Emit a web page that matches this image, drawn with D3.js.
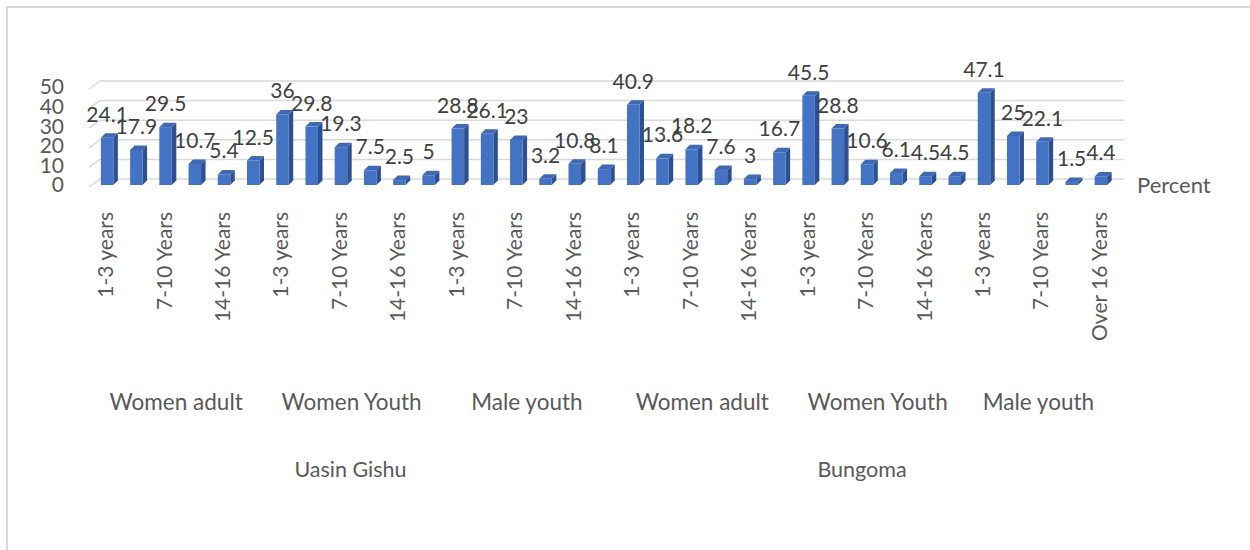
<!DOCTYPE html>
<html>
<head>
<meta charset="utf-8">
<script src="https://cdn.jsdelivr.net/npm/d3@7"></script>
<style>
  html, body { margin: 0; padding: 0; background: #fff; }
  svg text { font-family: Lato, "Liberation Sans", sans-serif; fill: #595959; }
</style>
</head>
<body>
<svg id="chart" width="1250" height="550"></svg>
<script>
// ---------- DATA ----------
const counties = ["Uasin Gishu", "Bungoma"];
const groups = ["Women adult", "Women Youth", "Male youth"];
const categories = ["1-3 years", "4-6 Years", "7-10 Years", "11-13 Years", "14-16 Years", "Over 16 Years"];
const categoriesBungomaMale = ["1-3 years", "4-6 Years", "7-10 Years", "11-13 Years", "Over 16 Years"];

const uasinWomenAdult = [24.1, 17.9, 29.5, 10.7, 5.4, 12.5];
const uasinWomenYouth = [36, 29.8, 19.3, 7.5, 2.5, 5];
const uasinMaleYouth = [28.8, 26.1, 23, 3.2, 10.8, 8.1];
const bungomaWomenAdult = [40.9, 13.6, 18.2, 7.6, 3, 16.7];
const bungomaWomenYouth = [45.5, 28.8, 10.6, 6.1, 4.5, 4.5];
const bungomaMaleYouth = [47.1, 25, 22.1, 1.5, 4.4];

const yTicks = [0, 10, 20, 30, 40, 50];
const axisTitle = "Percent";

// ---------- BUILD ROWS ----------
const seriesTable = [
  { county: counties[0], group: groups[0], cats: categories, vals: uasinWomenAdult },
  { county: counties[0], group: groups[1], cats: categories, vals: uasinWomenYouth },
  { county: counties[0], group: groups[2], cats: categories, vals: uasinMaleYouth },
  { county: counties[1], group: groups[0], cats: categories, vals: bungomaWomenAdult },
  { county: counties[1], group: groups[1], cats: categories, vals: bungomaWomenYouth },
  { county: counties[1], group: groups[2], cats: categoriesBungomaMale, vals: bungomaMaleYouth }
];
const rows = [];
seriesTable.forEach((s, gi) => {
  s.vals.forEach((v, i) => {
    rows.push({ key: rows.length, county: s.county, group: s.group, groupIdx: gi, cat: s.cats[i], value: v });
  });
});

// ---------- SCALES ----------
const svg = d3.select("#chart");
const x = d3.scaleBand().domain(rows.map(d => d.key)).range([93.5, 1116.5]);
const y = d3.scaleLinear().domain([0, 50]).range([185, 87]);
const cx = k => x(k) + x.bandwidth() / 2 - 1;

const barW = 12.5, depth = 4.5, backShift = 6;

// chart frame
svg.append("line").attr("x1", 8).attr("x2", 1250).attr("y1", 7).attr("y2", 7)
  .attr("stroke", "#d9d9d9").attr("stroke-width", 2);
svg.append("line").attr("x1", 7).attr("x2", 7).attr("y1", 6).attr("y2", 550)
  .attr("stroke", "#d9d9d9").attr("stroke-width", 2);

// gridlines (back wall)
const grid = svg.append("g");
yTicks.forEach(t => {
  const yy = y(t) - backShift;
  grid.append("line").attr("x1", 100).attr("x2", 1124).attr("y1", yy).attr("y2", yy)
    .attr("stroke", "#d9d9d9").attr("stroke-width", 1.5);
  grid.append("line").attr("x1", 89).attr("x2", 100).attr("y1", yy + 8).attr("y2", yy)
    .attr("stroke", "#d9d9d9").attr("stroke-width", 1.5);
});

// y axis labels
svg.append("g").selectAll("text").data(yTicks).join("text")
  .attr("x", 64).attr("y", d => y(d) + 2)
  .attr("text-anchor", "end").attr("dominant-baseline", "middle")
  .style("font-size", "21px").text(d => d);

// bars (3D)
const bars = svg.append("g").selectAll("g").data(rows).join("g");
bars.append("polygon") // side
  .attr("points", d => {
    const x1 = cx(d.key) + barW / 2, t = y(d.value), b = y(0);
    return [[x1, t], [x1 + depth, t - depth], [x1 + depth, b - depth], [x1, b]].join(" ");
  })
  .attr("fill", "#2c5192");
bars.append("polygon") // top
  .attr("points", d => {
    const x0 = cx(d.key) - barW / 2, x1 = cx(d.key) + barW / 2, t = y(d.value);
    return [[x0, t], [x0 + depth, t - depth], [x1 + depth, t - depth], [x1, t]].join(" ");
  })
  .attr("fill", "#3f69b5");
bars.append("rect") // front
  .attr("x", d => cx(d.key) - barW / 2).attr("width", barW)
  .attr("y", d => y(d.value)).attr("height", d => y(0) - y(d.value))
  .attr("fill", "#4573c4");

// data labels
svg.append("g").selectAll("text").data(rows).join("text")
  .attr("x", d => cx(d.key)).attr("y", d => y(d.value) - 16)
  .attr("text-anchor", "middle").style("font-size", "21px").style("fill", "#404040")
  .text(d => d.value);

// category labels (every other)
svg.append("g").selectAll("text").data(rows.filter((d, i) => i % 2 === 0)).join("text")
  .attr("transform", d => `translate(${cx(d.key) + 6},212) rotate(-90)`)
  .attr("text-anchor", "end").style("font-size", "21px")
  .text(d => d.cat);

// group labels
const groupCenters = d3.rollups(rows, v => d3.mean(v, d => cx(d.key)), d => d.groupIdx);
svg.append("g").selectAll("text").data(groupCenters).join("text")
  .attr("x", d => d[1] - 4).attr("y", 410)
  .attr("text-anchor", "middle").style("font-size", "22.5px")
  .text(d => seriesTable[d[0]].group);

// county labels
const countyCenters = d3.rollups(rows, v => d3.mean(v, d => cx(d.key)), d => d.county);
svg.append("g").selectAll("text").data(countyCenters).join("text")
  .attr("x", d => d[1] - 5).attr("y", 477)
  .attr("text-anchor", "middle").style("font-size", "21.5px")
  .text(d => d[0]);

// axis title
svg.append("text").attr("x", 1137).attr("y", 193).style("font-size", "22px").text(axisTitle);
</script>
</body>
</html>
